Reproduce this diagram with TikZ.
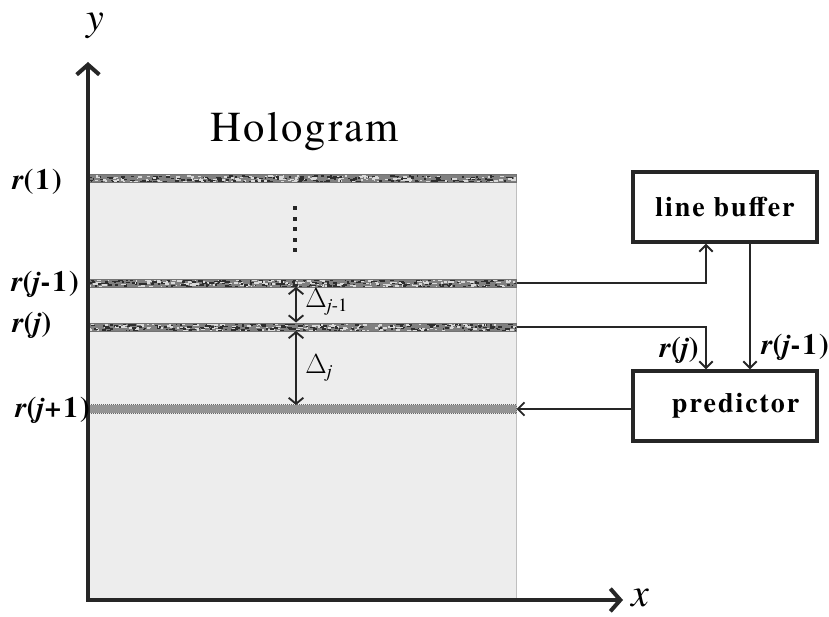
\documentclass[tikz,border=0pt]{standalone}
\usepackage{fontspec}
\setmainfont{texgyretermes}[Extension=.otf,
  UprightFont=*-regular, BoldFont=*-bold,
  ItalicFont=*-italic, BoldItalicFont=*-bolditalic]
\newfontfamily\wideserif{texgyretermes}[Extension=.otf,
  UprightFont=*-regular, BoldFont=*-bold,
  ItalicFont=*-italic, BoldItalicFont=*-bolditalic, LetterSpace=5]
\newfontfamily\labelserif{texgyretermes}[Extension=.otf,
  UprightFont=*-regular, BoldFont=*-bold,
  ItalicFont=*-italic, BoldItalicFont=*-bolditalic, LetterSpace=7]
\usetikzlibrary{arrows.meta,calc}

% speckled grey texture over a strip whose top edge is at #1
\newcommand\speckle[1]{%
  \foreach \k in {1,...,420}{%
    \pgfmathsetmacro\xa{88+428*rnd}%
    \pgfmathsetmacro\ya{#1+8*rnd}%
    \pgfmathsetmacro\wd{1+4*rnd}%
    \pgfmathtruncatemacro\shade{rnd<0.45 ? 15 : 82}%
    \fill[black!\shade] (\xa,\ya) rectangle ++(\wd,1.6);
  }%
}

\begin{document}
\begin{tikzpicture}[x=0.75pt,y=-0.75pt,
  axis/.style={line width=3pt, draw=black!85, -{Straight Barb[length=7.5pt,width=17pt,line width=3pt]}},
  blockbox/.style={draw=black!85, line width=3pt, minimum width=138pt, minimum height=52pt, inner sep=0pt,
    font=\labelserif\bfseries\fontsize{21}{24}\selectfont},
  strip/.style={draw=black!55, line width=0.4pt, fill=black!50, minimum width=321pt, minimum height=6pt,
    inner sep=0pt, anchor=west},
  flow/.style={draw=black!85, line width=1.5pt, -{Straight Barb[length=5pt,width=10pt,line width=1.4pt]}},
  gap/.style={draw=black!85, line width=1.5pt, {Straight Barb[length=4.5pt,width=11pt,line width=1.4pt]}-{Straight Barb[length=4.5pt,width=11pt,line width=1.4pt]}},
  rlabel/.style={font=\labelserif\bfseries\fontsize{22}{24}\selectfont, inner sep=0pt},
  gaplabel/.style={font=\fontsize{21}{24}\selectfont, inner sep=0pt, anchor=west}
]
\useasboundingbox (0,0) rectangle (829,617);

% hologram area
\fill[black!7] (88,175) rectangle (516,600);
\draw[black!25, line width=0.6pt] (516,175) -- (516,600);
\node[font=\wideserif\fontsize{32}{36}\selectfont] (title) at (305,132) {Hologram};

% recorded rows
\pgfmathsetseed{7}
\node[strip] (row1) at (88,178.5) {};
\begin{scope}\clip (88,175) rectangle (516,182); \speckle{175}\end{scope}
\draw[black!55, line width=0.4pt] (88,174.6) rectangle (516,182.4);

\node[strip] (rowjm) at (88,283) {};
\begin{scope}\clip (88,279.5) rectangle (516,286.5); \speckle{279}\end{scope}
\draw[black!55, line width=0.4pt] (88,279.1) rectangle (516,286.9);

\node[strip] (rowj) at (88,327) {};
\begin{scope}\clip (88,323.5) rectangle (516,330.5); \speckle{323}\end{scope}
\draw[black!55, line width=0.4pt] (88,323.1) rectangle (516,330.9);

% row being predicted
\node[strip, fill=black!42, draw=none] (rowjp) at (88,409) {};
\draw[black!60, line width=0.5pt, densely dotted] (rowjp.south west) rectangle (rowjp.north east);

% skipped rows
\foreach \yy in {208,218.5,229,239.5,250}
  \fill[black!85] (293,\yy-2) rectangle (297,\yy+2);

% row spacings
\coordinate (d1a) at (296,287);
\coordinate (d1b) at (296,322.5);
\coordinate (d2a) at (296,331);
\coordinate (d2b) at (296,405);
\draw[gap] (d1a) -- (d1b);
\draw[gap] (d2a) -- (d2b);
\node[gaplabel] (dl1) at (305,302) {$\Delta_{\mbox{\fontsize{14}{14}\selectfont\itshape j\upshape-1}}$};
\node[gaplabel] (dl2) at (305,368) {$\Delta_{\mbox{\fontsize{14}{14}\selectfont\itshape j}}$};

% axes
\coordinate (origin) at (88,600);
\coordinate (ytip) at (88,62);
\coordinate (xtip) at (623,600);
\draw[axis] ($(origin)+(0,1.5)$) -- (ytip);
\draw[axis] ($(origin)+(-1.5,0)$) -- (xtip);
\node[font=\itshape\fontsize{30}{32}\selectfont] (ylab) at (95,26) {y};
\node[font=\itshape\fontsize{30}{32}\selectfont] (xlab) at (640,598) {x};

% row labels
\node[rlabel, anchor=west] (l1) at (12,182) {\itshape r\upshape(1)};
\node[rlabel, anchor=west] (l2) at (11,284) {\itshape r\upshape(\itshape j\upshape-1)};
\node[rlabel, anchor=west] (l3) at (12,325) {\itshape r\upshape(\itshape j\upshape)};
\node[rlabel, anchor=west] (l4) at (15,410) {\itshape r\upshape(\itshape j\upshape+1)};

% processing blocks
\node[blockbox] (buf) at (725,207) {line buffer};
\node[blockbox] (pred) at (725,406) {\hspace*{16pt}predictor};

% data paths
\coordinate (bufin) at (706,283);
\coordinate (predin) at (706,327);
\draw[flow] (rowjm.east) -- (bufin) -- (bufin |- buf.south);
\draw[flow] (rowj.east) -- (predin) -- (predin |- pred.north);
\draw[flow] (buf.south -| 750,0) -- (pred.north -| 750,0);
\draw[flow] (rowjp.east -| pred.west) -- (rowjp.east);
\node[rlabel, anchor=east] (lj) at (699,350) {\itshape r\upshape(\itshape j\upshape)};
\node[rlabel, anchor=west] (ljm) at (761,347) {\itshape r\upshape(\itshape j\upshape-1)};
\end{tikzpicture}
\end{document}
